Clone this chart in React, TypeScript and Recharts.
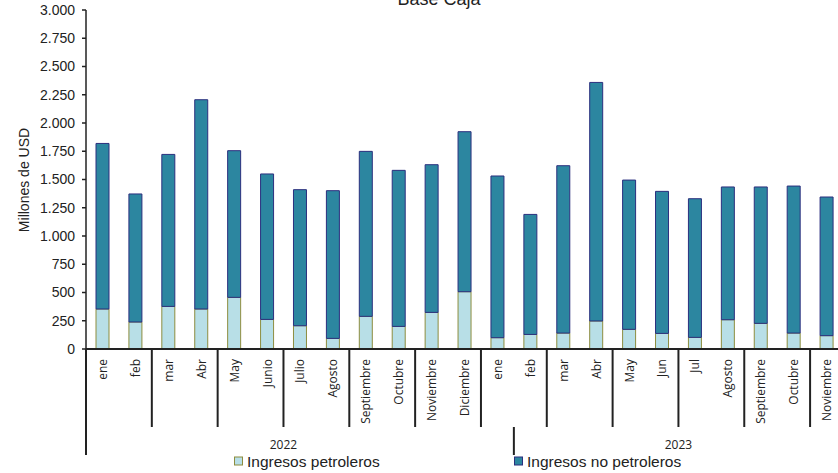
import React from 'react';
import { BarChart, Bar, XAxis, YAxis } from 'recharts';

// meses por año
const meses2022 = ['ene', 'feb', 'mar', 'Abr', 'May', 'Junio', 'Julio', 'Agosto', 'Septiembre', 'Octubre', 'Noviembre', 'Diciembre'];
const meses2023 = ['ene', 'feb', 'mar', 'Abr', 'May', 'Jun', 'Jul', 'Agosto', 'Septiembre', 'Octubre', 'Noviembre'];
const years = ['2022', '2023'];

// Millones de USD
const petroleros = [354, 239, 377, 354, 457, 262, 206, 94, 289, 200, 324, 507, 100, 129, 141, 248, 174, 138, 103, 259, 227, 141, 118];
const noPetroleros = [1465, 1133, 1345, 1852, 1298, 1287, 1204, 1307, 1460, 1381, 1307, 1416, 1431, 1062, 1481, 2111, 1321, 1257, 1227, 1175, 1207, 1301, 1227];

const yTicks = [0, 250, 500, 750, 1000, 1250, 1500, 1750, 2000, 2250, 2500, 2750, 3000];

const data = [
  ...meses2022.map((m, i) => ({ key: `2022-${i}`, mes: m, year: years[0] })),
  ...meses2023.map((m, i) => ({ key: `2023-${i}`, mes: m, year: years[1] })),
].map((d, i) => ({ ...d, petroleros: petroleros[i], noPetroleros: noPetroleros[i] }));

const CHART_W = 843;
const CHART_H = 473;
const Y_AXIS_W = 86;
const BAND = (CHART_W - Y_AXIS_W) / data.length;
const firstOf2023 = meses2022.length;

const fmt = (v) => {
  if (v >= 1000) {
    const miles = Math.floor(v / 1000);
    const resto = String(v % 1000).padStart(3, '0');
    return `${miles}.${resto}`;
  }
  return String(v);
};

const MonthTick = ({ x, y, payload, index }) => {
  const item = data[index] || {};
  const lineColor = '#222';
  return (
    <g>
      <text
        x={x}
        y={y + 10}
        transform={`rotate(-90, ${x}, ${y + 10})`}
        textAnchor="end"
        dominantBaseline="central"
        fontFamily="'Open Sans', sans-serif"
        fontSize={12}
        fill="#222"
      >
        {item.mes}
      </text>
      {/* línea del eje izquierdo hasta abajo */}
      {index === 0 && (
        <line x1={x - BAND / 2} x2={x - BAND / 2} y1={y} y2={y + 106} stroke={lineColor} strokeWidth={2} />
      )}
      {/* separadores cada dos meses */}
      {index % 2 === 1 && (
        <line x1={x + BAND / 2} x2={x + BAND / 2} y1={y} y2={y + 78} stroke={lineColor} strokeWidth={2} />
      )}
      {/* separador de año (como en el original, desplazado) */}
      {index === firstOf2023 && (
        <line x1={x + BAND / 2} x2={x + BAND / 2} y1={y + 78} y2={y + 106} stroke={lineColor} strokeWidth={2} />
      )}
      {(index === 5 || index === 17) && (
        <text
          x={x + BAND / 2}
          y={y + 100}
          textAnchor="middle"
          fontFamily="'Open Sans', sans-serif"
          fontSize={12}
          fill="#222"
        >
          {index === 5 ? years[0] : years[1]}
        </text>
      )}
    </g>
  );
};

export default function App() {
  return (
    <div style={{ position: 'absolute', left: 0, top: 0, width: 838, height: 473, overflow: 'hidden', background: '#fff' }}>
      <BarChart
        width={CHART_W}
        height={CHART_H}
        data={data}
        margin={{ top: 10, right: 0, left: 0, bottom: 0 }}
        barSize={13}
      >
        <XAxis
          dataKey="key"
          interval={0}
          height={124}
          tickSize={0}
          tickMargin={0}
          tickLine={false}
          axisLine={{ stroke: '#222', strokeWidth: 2 }}
          tick={MonthTick}
        />
        <YAxis
          width={Y_AXIS_W}
          domain={[0, 3000]}
          ticks={yTicks}
          tickFormatter={fmt}
          tickSize={4}
          tickMargin={7}
          axisLine={{ stroke: '#222', strokeWidth: 1.5 }}
          tickLine={{ stroke: '#222', strokeWidth: 1.5 }}
          tick={{ fill: '#222', fontSize: 14, fontFamily: "'Liberation Sans', Arial, sans-serif" }}
        />
        <Bar dataKey="petroleros" stackId="a" fill="#b8dfe7" stroke="#8d8d3f" strokeWidth={1} isAnimationActive={false} />
        <Bar dataKey="noPetroleros" stackId="a" fill="#2c86a0" stroke="#2b2f7e" strokeWidth={1} isAnimationActive={false} />
      </BarChart>

      {/* título, etiqueta del eje y leyenda */}
      <svg
        width={838}
        height={473}
        style={{ position: 'absolute', left: 0, top: 0, pointerEvents: 'none' }}
        fontFamily="'Liberation Sans', Arial, sans-serif"
      >
        <text x={439} y={5} textAnchor="middle" fontSize={18} fill="#222">Base Caja</text>
        <text
          x={24}
          y={180}
          transform="rotate(-90, 24, 180)"
          textAnchor="middle"
          dominantBaseline="central"
          fontSize={14}
          fill="#222"
        >
          Millones de USD
        </text>
        <rect x={234.5} y={457} width={8} height={8} fill="#b8dfe7" stroke="#8d8d3f" strokeWidth={1} />
        <text x={247} y={467} fontSize={15.5} fill="#222">Ingresos petroleros</text>
        <rect x={514.5} y={457} width={8} height={8} fill="#2c86a0" stroke="#2b2f7e" strokeWidth={1} />
        <text x={527} y={467} fontSize={15.5} fill="#222">Ingresos no petroleros</text>
      </svg>
    </div>
  );
}
